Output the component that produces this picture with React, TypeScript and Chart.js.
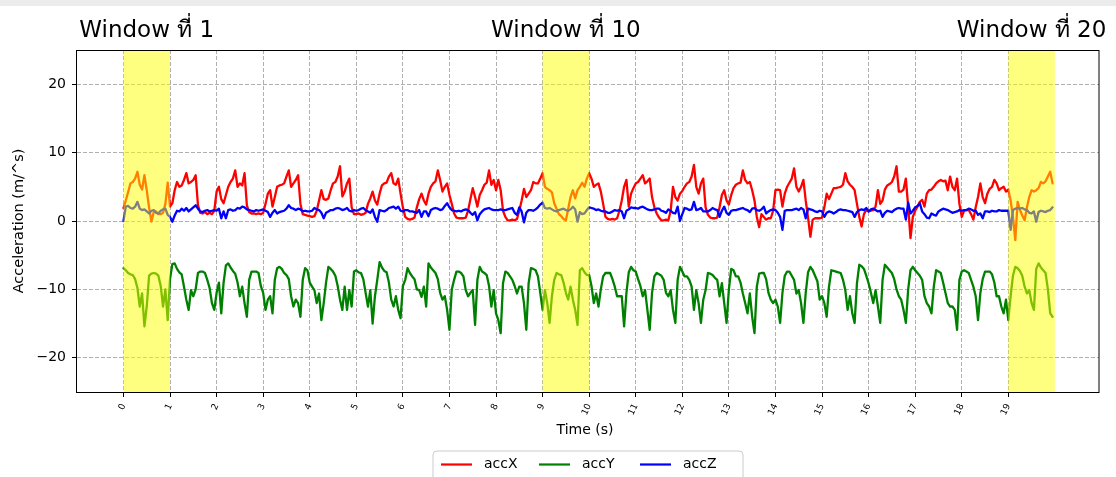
import React, { useEffect, useRef } from 'react';
import { Chart, registerables } from 'chart.js';

Chart.register(...registerables);

// sampling step of the recordings (seconds)
const SAMPLE_STEP = 0.05;

const accX = [
  1.9, 3.0, 4.2, 5.5, 5.7, 6.2, 7.2, 5.3, 4.6, 6.7, 4.5, 2.0, -0.1, 1.3, 1.4, 1.0, 1.0, 1.2, 2.5, 5.6,
  2.1, 2.6, 4.5, 5.7, 5.0, 5.2, 6.0, 7.0, 5.5, 5.7, 6.0, 6.7, 2.3, 1.2, 1.1, 1.3, 1.0, 1.2, 1.0, 1.5,
  4.3, 5.0, 3.2, 2.6, 3.8, 5.0, 5.7, 6.2, 7.4, 5.0, 5.5, 5.2, 7.0, 2.3, 1.3, 1.1, 1.1, 1.0, 1.1, 1.0,
  1.2, 2.5, 4.0, 4.5, 2.1, 3.5, 5.0, 5.2, 5.3, 5.5, 6.5, 7.4, 5.0, 5.5, 6.0, 6.7, 2.5, 1.0, 0.9, 0.8,
  0.7, 0.6, 0.7, 1.5, 3.0, 4.5, 3.2, 3.1, 3.3, 4.5, 5.5, 5.7, 6.5, 8.0, 3.6, 4.3, 5.5, 6.2, 2.0, 1.0,
  1.0, 1.1, 0.9, 1.0, 1.2, 2.5, 3.3, 4.3, 3.0, 2.4, 4.0, 5.2, 5.5, 5.6, 6.5, 7.0, 5.5, 5.3, 6.2, 4.0,
  2.0, 0.6, 0.3, 0.2, 0.3, 0.5, 2.0, 3.2, 4.0, 3.0, 2.4, 4.0, 5.0, 5.5, 5.8, 7.4, 6.0, 4.3, 5.0, 5.5,
  3.8, 2.5, 1.1, 0.5, 0.4, 0.4, 0.4, 0.5, 1.5, 3.2, 4.8, 3.5, 2.1, 3.8, 4.5, 5.3, 5.6, 7.4, 5.3, 6.0,
  4.5, 6.0, 4.5, 1.5, 0.6, 0.1, 0.1, 0.2, 0.1, 0.3, 1.5, 3.0, 4.7, 3.5, 4.0, 4.5, 5.7, 5.5, 5.5, 6.2,
  7.0, 5.0, 4.7, 4.5, 4.2, 2.6, 1.8, 1.0, 0.7, 0.3, 0.1, 1.8, 3.5, 4.5, 3.3, 4.5, 5.0, 5.6, 5.0, 6.2,
  7.0, 6.2, 5.0, 5.3, 5.5, 4.3, 2.5, 0.6, 0.3, 0.2, 0.3, 0.2, 0.4, 1.5, 3.0, 5.0, 6.0, 2.1, 4.0, 4.8,
  5.5, 5.7, 6.2, 6.7, 5.5, 5.8, 6.2, 3.5, 2.0, 1.1, 0.5, 0.1, 0.1, 0.2, 0.1, 1.5, 5.0, 3.5, 3.0, 4.0,
  4.4, 5.0, 5.5, 5.7, 6.5, 8.2, 5.0, 4.0, 5.5, 6.2, 2.0, 0.9, 0.5, 0.4, 0.4, 0.5, 2.0, 3.8, 4.5, 3.0,
  2.4, 3.8, 4.8, 5.3, 5.5, 5.6, 7.4, 6.0, 5.5, 5.7, 4.5, 3.0, 0.6, -0.9, 1.0, 0.6, 0.2, 0.4, 0.4, 1.5,
  4.5, 4.6, 4.5, 2.1, 4.0, 5.0, 5.6, 6.2, 7.7, 5.0, 4.3, 5.0, 6.0, 3.0, 0.5, -2.3, 0.2, 0.4, 0.4, 0.4,
  0.5, 2.0, 4.0, 3.2, 4.0, 4.8, 4.8, 4.9, 5.0, 5.3, 7.0, 5.8, 5.3, 5.0, 4.5, 2.5, 0.6, -0.8, 1.0, 1.6,
  1.4, 1.5, 1.6, 2.1, 4.5, 2.5, 3.0, 4.6, 5.2, 5.4, 5.7, 6.5, 8.0, 4.3, 4.3, 4.6, 6.2, 2.1, -2.5, 0.6,
  1.5, 2.1, 2.8, 3.1, 2.1, 4.0, 4.5, 4.6, 5.0, 5.5, 5.8, 6.0, 5.8, 5.9, 4.5, 6.5, 5.0, 4.5, 6.2, 2.5,
  0.6, 1.5, 1.6, 1.6, 1.0, 0.2, 2.0, 3.5, 5.5, 3.5, 2.6, 4.0, 4.7, 5.0, 6.0, 5.5, 4.5, 4.8, 5.0, 4.3,
  4.6, 3.0, 0.6, -2.8, 2.8, 1.6, 0.8, 0.1, 2.0, 3.5, 4.5, 4.3, 4.5, 4.8, 5.7, 5.5, 5.8, 6.5, 7.2, 5.5,
];

const accY = [
  -6.9, -7.2, -7.6, -7.8, -7.9, -8.5, -9.8, -12.5, -10.6, -15.4, -12.5, -8.0, -7.7, -7.6, -7.7, -8.0, -9.5, -12.5, -10.0, -14.5,
  -8.5, -6.3, -6.2, -7.0, -7.5, -7.8, -9.6, -11.5, -13.0, -10.1, -11.0, -10.0, -7.6, -7.4, -7.4, -7.6, -8.6, -9.8, -12.0, -13.0,
  -10.5, -9.0, -13.5, -9.0, -6.5, -6.2, -6.8, -7.3, -7.7, -9.0, -11.0, -9.6, -12.0, -14.0, -8.6, -7.4, -7.4, -7.4, -7.6, -9.5,
  -10.5, -13.0, -11.5, -11.0, -13.5, -8.6, -6.9, -6.7, -7.0, -7.6, -7.9, -8.5, -11.0, -12.5, -11.5, -12.0, -14.0, -8.6, -6.9, -7.2,
  -9.0, -9.6, -10.1, -12.0, -10.6, -14.5, -12.0, -9.0, -6.7, -7.0, -7.4, -8.0, -9.5, -11.5, -13.0, -9.6, -13.0, -10.1, -12.5, -7.4,
  -7.2, -7.5, -7.6, -8.5, -10.5, -12.5, -10.1, -15.0, -11.0, -8.6, -6.0, -6.8, -7.3, -7.5, -9.0, -11.5, -12.5, -11.0, -13.0, -14.2,
  -9.5, -8.6, -6.9, -7.6, -8.1, -8.5, -10.0, -10.1, -11.1, -9.6, -12.5, -6.2, -6.8, -7.2, -7.6, -8.5, -10.5, -11.5, -11.0, -13.0,
  -15.9, -10.0, -8.6, -7.4, -7.4, -7.6, -8.1, -10.1, -11.0, -10.5, -10.1, -15.2, -8.6, -6.7, -7.4, -7.6, -7.9, -9.5, -12.5, -10.1,
  -13.5, -14.5, -16.4, -9.1, -7.4, -7.6, -8.1, -8.6, -9.5, -10.6, -9.6, -9.6, -12.0, -15.9, -9.1, -6.9, -7.0, -7.2, -8.1, -10.5,
  -13.0, -10.1, -12.0, -14.9, -11.0, -8.6, -7.6, -7.8, -7.9, -9.0, -10.5, -11.5, -9.6, -11.5, -13.0, -15.2, -7.2, -6.9, -7.5, -7.9,
  -7.9, -9.5, -12.0, -10.6, -12.5, -10.0, -8.1, -7.6, -7.6, -7.6, -8.5, -9.6, -11.0, -11.0, -11.0, -15.4, -10.5, -7.5, -6.7, -7.2,
  -7.4, -8.5, -9.5, -11.0, -10.1, -13.0, -15.9, -10.5, -8.1, -7.6, -7.8, -8.0, -8.6, -10.5, -11.0, -10.1, -13.0, -14.9, -8.6, -6.7,
  -7.4, -8.1, -8.1, -8.6, -9.6, -13.0, -10.1, -12.0, -14.9, -11.5, -10.1, -7.6, -7.7, -7.9, -8.3, -8.6, -11.0, -9.1, -12.0, -14.9,
  -10.0, -7.0, -7.2, -8.1, -8.1, -9.0, -10.6, -12.0, -13.5, -10.6, -14.0, -16.4, -9.6, -7.7, -7.6, -7.6, -8.5, -10.5, -11.5, -12.0,
  -11.5, -12.5, -14.9, -10.5, -8.0, -7.4, -7.4, -8.0, -8.6, -10.6, -10.1, -12.0, -14.9, -10.5, -7.5, -6.7, -7.2, -8.0, -8.8, -11.5,
  -11.0, -12.0, -14.0, -9.6, -7.2, -7.3, -7.4, -7.5, -7.6, -8.6, -10.1, -13.0, -11.0, -13.5, -14.9, -9.1, -6.4, -6.6, -7.0, -8.0,
  -9.1, -10.5, -12.0, -10.1, -12.5, -14.9, -8.6, -6.4, -6.8, -7.2, -7.6, -8.5, -10.0, -11.0, -11.5, -13.0, -14.9, -10.0, -7.2, -6.7,
  -7.2, -7.6, -8.0, -8.6, -11.0, -12.0, -12.5, -13.5, -9.6, -7.2, -7.4, -7.6, -9.0, -10.5, -12.0, -12.5, -12.5, -13.0, -15.9, -8.6,
  -7.4, -7.2, -7.4, -7.6, -8.6, -9.6, -11.0, -14.5, -10.5, -8.5, -7.4, -7.4, -7.4, -7.8, -9.0, -11.0, -11.0, -12.5, -13.5, -11.5,
  -14.5, -11.0, -8.0, -6.7, -6.9, -7.3, -8.0, -9.6, -10.6, -10.1, -12.0, -13.0, -7.0, -6.2, -6.8, -7.2, -7.6, -10.0, -13.5, -14.0,
];

const accZ = [
  0.0, 2.1, 2.2, 1.9, 1.8, 2.1, 2.8, 1.8, 1.6, 1.7, 1.4, 1.1, 1.5, 1.6, 1.2, 1.1, 1.5, 1.7, 1.8, 0.9,
  0.6, -0.1, 0.8, 1.5, 1.4, 1.8, 1.5, 1.9, 1.4, 1.7, 2.0, 2.3, 1.8, 1.4, 1.3, 1.5, 1.6, 1.4, 1.5, 1.6,
  1.5, 1.8, 0.4, 1.4, 0.4, 1.6, 1.7, 1.5, 1.6, 1.9, 1.8, 2.1, 2.0, 1.7, 1.6, 1.5, 1.4, 1.6, 1.5, 1.6,
  1.7, 1.5, 1.3, 0.6, 1.2, 1.6, 1.1, 1.3, 1.4, 1.5, 1.8, 2.3, 1.9, 1.8, 1.6, 1.8, 1.7, 1.4, 1.5, 1.4,
  1.4, 1.5, 1.9, 1.7, 1.6, 1.2, 0.4, 1.2, 1.4, 1.6, 1.6, 1.8, 1.9, 1.8, 1.6, 1.7, 1.9, 1.5, 1.4, 1.6,
  1.5, 1.6, 1.8, 1.9, 1.6, 1.4, 1.2, 1.7, 0.6, -0.1, 1.6, 1.5, 1.4, 1.6, 1.9, 2.0, 2.1, 1.8, 2.1, 1.5,
  1.4, 1.6, 1.6, 1.4, 1.4, 1.3, 1.2, 1.6, 0.6, 1.4, 1.4, 0.7, 1.6, 1.8, 1.9, 1.8, 1.6, 1.7, 2.2, 2.6,
  2.0, 1.6, 1.5, 1.4, 1.5, 1.4, 1.6, 1.7, 1.6, 1.2, 0.9, 1.3, 0.1, 1.0, 1.4, 1.7, 1.8, 1.9, 1.7, 1.6,
  1.6, 1.6, 1.7, 1.6, 1.6, 1.7, 1.8, 1.9, 1.2, 0.9, 2.0, 1.4, -0.2, 1.2, 1.6, 1.6, 1.5, 1.7, 2.0, 2.4,
  2.7, 1.9, 1.8, 1.9, 1.7, 1.5, 1.4, 1.6, 1.7, 1.8, 1.6, 1.5, 1.7, 2.1, 1.7, -0.1, 1.3, 1.0, 1.1, 1.6,
  2.0, 1.9, 1.8, 1.6, 1.7, 1.5, 1.4, 1.4, 1.2, 1.2, 1.4, 1.6, 1.5, 1.6, 1.4, 0.4, 1.5, 1.7, 2.0, 1.9,
  1.9, 1.8, 2.0, 2.1, 1.9, 1.7, 1.6, 1.6, 1.7, 1.8, 1.8, 1.5, 1.4, 1.2, 1.7, 1.5, 1.2, 1.1, 2.1, 0.0,
  1.0, 1.9, 1.8, 1.6, 1.7, 2.8, 1.6, 1.7, 1.9, 1.4, 1.4, 1.4, 1.6, 1.9, 1.7, 1.6, 0.6, 1.5, 2.1, 1.2,
  0.9, 1.5, 1.6, 1.6, 1.7, 1.8, 1.9, 1.7, 1.6, 1.3, 1.8, 1.9, 1.6, 1.5, 1.7, 2.1, 1.1, 1.4, 1.6, 1.7,
  1.6, 1.2, 0.6, -1.3, 1.5, 1.6, 1.6, 1.6, 1.7, 1.8, 1.6, 1.9, 1.7, 0.4, 1.8, 1.7, 1.6, 1.4, 1.3, 1.5,
  1.4, 0.6, 1.2, 1.4, 1.3, 1.1, 1.3, 1.6, 1.7, 1.6, 1.6, 1.5, 1.4, 1.3, 0.6, 1.3, 1.6, 1.7, 1.6, 1.9,
  1.4, 1.7, 1.8, 1.6, 1.4, 1.5, 0.6, 1.2, 1.5, 1.4, 1.3, 1.6, 1.8, 1.9, 1.8, 1.8, 0.2, 2.7, 1.1, 1.5,
  2.0, 2.2, 2.6, 1.4, 1.0, 0.5, 0.4, 1.1, 0.9, 0.8, 1.4, 1.6, 1.8, 1.7, 1.6, 1.4, 1.2, 1.3, 1.4, 1.6,
  1.5, 1.6, 1.6, 1.8, 1.7, 1.5, 1.5, 0.9, 1.1, 0.4, 1.4, 1.4, 1.3, 1.5, 1.4, 1.4, 1.6, 1.5, 1.5, 1.5,
  1.5, -1.3, 1.6, 1.8, 1.9, 1.8, 1.9, 1.7, 1.6, 1.2, 1.1, 1.4, -0.1, 1.3, 1.5, 1.4, 1.3, 1.5, 1.6, 2.0,
];

const xTickValues = [0, 1, 2, 3, 4, 5, 6, 7, 8, 9, 10, 11, 12, 13, 14, 15, 16, 17, 18, 19];
const yTickValues = [-20, -10, 0, 10, 20];
const windowStarts = [0, 9, 19];
const windowTitles = ['Window ที่ 1', 'Window ที่ 10', 'Window ที่ 20'];
const WINDOW_LENGTH = 1;
const seriesNames = ['accX', 'accY', 'accZ'];
const seriesColors = ['#ff0000', '#008000', '#0000ff'];
const xAxisTitle = 'Time (s)';
const yAxisTitle = 'Acceleration (m/^s)';

const FONT = '"DejaVu Sans", "Noto Sans", sans-serif';

export default function App() {
  const canvasRef = useRef<HTMLCanvasElement>(null);

  useEffect(() => {
    const canvas = canvasRef.current;
    if (!canvas) return;

    const toPoints = (arr: number[]) =>
      arr.map((v, i) => ({ x: Math.round(i * SAMPLE_STEP * 100) / 100, y: v }));
    const series = [accX, accY, accZ];

    const decorations = {
      id: 'decorations',
      beforeDraw(chart: any) {
        const { ctx, width, height } = chart;
        ctx.save();
        ctx.fillStyle = '#ffffff';
        ctx.fillRect(0, 0, width, height);
        ctx.fillStyle = '#ececec';
        ctx.fillRect(0, 0, width, 6);
        ctx.restore();
      },
      afterDatasetsDraw(chart: any) {
        const { ctx, chartArea: a } = chart;
        const xs = chart.scales.x;
        ctx.save();
        ctx.fillStyle = 'rgba(255,255,0,0.5)';
        windowStarts.forEach((s) => {
          const x0 = xs.getPixelForValue(s);
          const x1 = xs.getPixelForValue(s + WINDOW_LENGTH);
          ctx.fillRect(x0, a.top, x1 - x0, a.bottom - a.top);
        });
        ctx.restore();
      },
      afterDraw(chart: any) {
        const { ctx, chartArea: a } = chart;
        const xs = chart.scales.x;
        ctx.save();
        // frame
        ctx.strokeStyle = '#000000';
        ctx.lineWidth = 1;
        ctx.strokeRect(a.left - 0.5, a.top + 0.5, a.right - a.left + 0.5, a.bottom - a.top);

        // window titles
        ctx.fillStyle = '#000000';
        ctx.font = `23px ${FONT}`;
        ctx.textAlign = 'center';
        ctx.textBaseline = 'alphabetic';
        windowStarts.forEach((s, i) => {
          const cx = xs.getPixelForValue(s + WINDOW_LENGTH / 2);
          ctx.fillText(windowTitles[i], cx, 37);
        });

        // axis titles
        const cx = (a.left + a.right) / 2;
        const cy = (a.top + a.bottom) / 2;
        ctx.font = `14px ${FONT}`;
        ctx.textBaseline = 'middle';
        ctx.fillText(xAxisTitle, cx - 3, 430);
        ctx.save();
        ctx.translate(19, cy);
        ctx.rotate(-Math.PI / 2);
        ctx.font = `14.5px ${FONT}`;
        ctx.fillText(yAxisTitle, 0, 0);
        ctx.restore();

        // legend
        const boxW = 310;
        const boxL = Math.round(cx - boxW / 2);
        const boxT = 451;
        const boxH = 40;
        const r = 4;
        ctx.beginPath();
        ctx.moveTo(boxL + r, boxT);
        ctx.lineTo(boxL + boxW - r, boxT);
        ctx.quadraticCurveTo(boxL + boxW, boxT, boxL + boxW, boxT + r);
        ctx.lineTo(boxL + boxW, boxT + boxH);
        ctx.lineTo(boxL, boxT + boxH);
        ctx.lineTo(boxL, boxT + r);
        ctx.quadraticCurveTo(boxL, boxT, boxL + r, boxT);
        ctx.closePath();
        ctx.fillStyle = 'rgba(255,255,255,0.8)';
        ctx.fill();
        ctx.strokeStyle = '#cccccc';
        ctx.lineWidth = 1;
        ctx.stroke();

        const itemOffsets = [8, 106, 207];
        const ly = boxT + 13.5;
        ctx.font = `14px ${FONT}`;
        ctx.textAlign = 'left';
        ctx.textBaseline = 'middle';
        seriesNames.forEach((name, i) => {
          const lx = boxL + itemOffsets[i];
          ctx.strokeStyle = seriesColors[i];
          ctx.lineWidth = 2.2;
          ctx.beginPath();
          ctx.moveTo(lx, ly);
          ctx.lineTo(lx + 31, ly);
          ctx.stroke();
          ctx.fillStyle = '#000000';
          ctx.fillText(name, lx + 43, ly);
        });
        ctx.restore();
      },
    };

    const chart = new Chart(canvas, {
      type: 'line',
      data: {
        datasets: series.map((arr, i) => ({
          label: seriesNames[i],
          data: toPoints(arr),
          borderColor: seriesColors[i],
          backgroundColor: seriesColors[i],
          borderWidth: 2.3,
          pointRadius: 0,
          tension: 0,
          fill: false,
          borderJoinStyle: 'round',
          borderCapStyle: 'round',
          order: 3 - i,
        })),
      },
      options: {
        animation: false,
        responsive: false,
        devicePixelRatio: 1,
        layout: { padding: { top: 50, right: 17, left: 0, bottom: 0 } },
        plugins: {
          legend: { display: false },
          tooltip: { enabled: false },
          title: { display: false },
        },
        scales: {
          x: {
            type: 'linear',
            min: -0.9975,
            max: 20.9475,
            afterBuildTicks: (s: any) => {
              s.ticks = xTickValues.map((v) => ({ value: v }));
            },
            afterFit: (s: any) => {
              s.height = 85;
            },
            grid: {
              color: '#b0b0b0',
              lineWidth: 1,
              tickLength: 5,
              tickColor: '#000000',
              tickWidth: 1,
              tickBorderDash: [],
            },
            border: { display: false, dash: [4, 2] },
            ticks: {
              autoSkip: false,
              minRotation: 65,
              maxRotation: 65,
              padding: 5,
              color: '#000000',
              font: { family: FONT, size: 9 },
              callback: (v: any) => String(v),
            },
          },
          y: {
            type: 'linear',
            min: -25,
            max: 25,
            afterBuildTicks: (s: any) => {
              s.ticks = yTickValues.map((v) => ({ value: v }));
            },
            afterFit: (s: any) => {
              s.width = 77;
            },
            grid: {
              color: '#b0b0b0',
              lineWidth: 1,
              tickLength: 5,
              tickColor: '#000000',
              tickWidth: 1,
              tickBorderDash: [],
            },
            border: { display: false, dash: [4, 2] },
            ticks: {
              padding: 6,
              color: '#000000',
              font: { family: FONT, size: 14 },
              callback: (v: any) => String(v).replace('-', '\u2212'),
            },
          },
        },
      },
      plugins: [decorations],
    } as any);

    return () => chart.destroy();
  }, []);

  return (
    <div style={{ position: 'absolute', left: 0, top: 0, width: 1116, height: 477 }}>
      <canvas ref={canvasRef} width={1116} height={477} style={{ display: 'block' }} />
    </div>
  );
}
